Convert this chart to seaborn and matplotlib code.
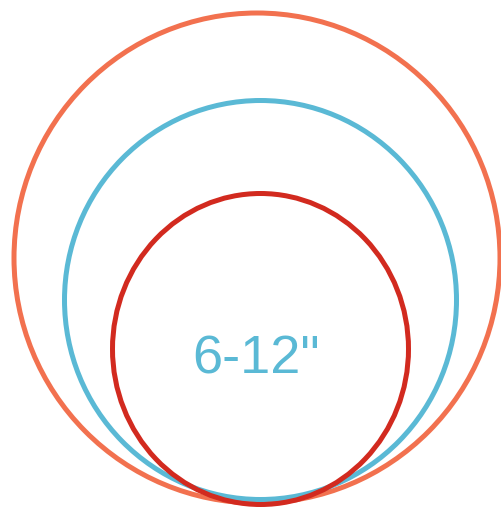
import matplotlib
matplotlib.use("Agg")
import matplotlib.pyplot as plt
from matplotlib.patches import Ellipse
import seaborn as sns

# ring data (pixel space of the 502x508 image)
ring_names = ["outer", "middle", "inner"]
ring_cx = [257, 260.5, 260.5]
ring_cy = [258, 300, 349]
ring_w = [486, 392, 296]
ring_h = [490, 399, 311]
ring_colors = ["#F2714F", "#5AB9D5", "#D22A1F"]
label_text = '6-12"'
label_pos = (256, 359)


def main():
    sns.set_theme(style="white")
    plt.rcParams["font.family"] = ["Liberation Sans", "DejaVu Sans"]

    fig = plt.figure(figsize=(5.02, 5.08), dpi=100)
    ax = fig.add_axes([0, 0, 1, 1])
    ax.set_xlim(0, 502)
    ax.set_ylim(508, 0)
    ax.set_aspect("auto")
    ax.axis("off")

    for cx, cy, w, h, c in zip(ring_cx, ring_cy, ring_w, ring_h, ring_colors):
        ax.add_patch(Ellipse((cx, cy), w, h, fill=False, edgecolor=c, linewidth=3.6))

    ax.text(label_pos[0], label_pos[1], label_text, color=ring_colors[1],
            fontsize=39, ha="center", va="center")

    fig.savefig("out.png", dpi=100, facecolor="white")
    plt.close(fig)


if __name__ == "__main__":
    main()
